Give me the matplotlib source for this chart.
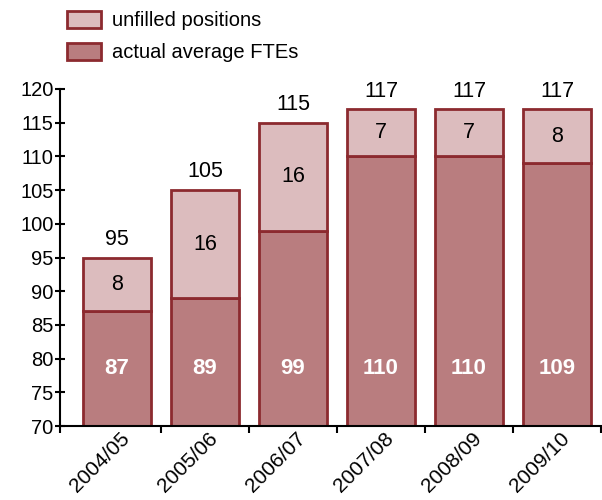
import matplotlib
matplotlib.use("Agg")
import matplotlib.pyplot as plt
import matplotlib.transforms as mtransforms
from matplotlib.patches import Patch
import numpy as np

categories = ["2004/05", "2005/06", "2006/07", "2007/08", "2008/09", "2009/10"]
actual_ftes = [87, 89, 99, 110, 110, 109]
unfilled = [8, 16, 16, 7, 7, 8]
totals = [95, 105, 115, 117, 117, 117]

plt.rcParams['font.family'] = ['Liberation Sans', 'DejaVu Sans']

dark = '#b97d7f'
light = '#dcbcbe'
edge = '#8c2a2f'

fig = plt.figure(figsize=(6.02, 5.0), dpi=100)
ax = fig.add_axes([60/602, 74/500, 542/602, 337/500])

slot = 88.0
base = 70
x = np.arange(len(categories))
w = 68 / slot
ax.bar(x, np.array(actual_ftes) - base, bottom=base, width=w, color=dark,
       edgecolor=edge, linewidth=2, label='actual average FTEs')
ax.bar(x, unfilled, bottom=actual_ftes, width=w, color=light,
       edgecolor=edge, linewidth=2, label='unfilled positions')

for i in range(len(categories)):
    ax.text(x[i], 78.6, str(actual_ftes[i]), ha='center', va='center',
            color='white', fontsize=16, fontweight='bold')
    ax.text(x[i], actual_ftes[i] + unfilled[i] / 2, str(unfilled[i]),
            ha='center', va='center', color='black', fontsize=15.5)
    ax.annotate(str(totals[i]), (x[i], totals[i]), xytext=(0, 5.5),
                textcoords='offset points', ha='center', va='bottom',
                fontsize=15.5, color='black')

left = -0.5 - 13 / slot
right = left + 542 / slot
ax.set_ylim(70, 120)
ax.set_xlim(left, right)
ax.set_yticks(np.arange(70, 121, 5))
ax.tick_params(axis='y', direction='inout', length=7, width=1.5, labelsize=14.5, pad=1)

ax.set_xticks([left] + list(np.arange(0.5, len(categories), 1.0)))
ax.set_xticklabels([])
ax.set_xticks(x, minor=True)
ax.set_xticklabels(categories, minor=True, rotation=45, ha='right', va='center',
                   rotation_mode='anchor', fontsize=15)
ax.tick_params(axis='x', which='major', direction='out', length=5, width=1.5)
ax.tick_params(axis='x', which='minor', length=0, pad=7)
offset = mtransforms.ScaledTranslation(10/100, 0, fig.dpi_scale_trans)
for lab in ax.xaxis.get_minorticklabels():
    lab.set_transform(lab.get_transform() + offset)

for s in ['top', 'right']:
    ax.spines[s].set_visible(False)
ax.spines['left'].set_linewidth(1.5)
ax.spines['bottom'].set_linewidth(1.5)

handles = [Patch(facecolor=light, edgecolor=edge, linewidth=2, label='unfilled positions'),
           Patch(facecolor=dark, edgecolor=edge, linewidth=2, label='actual average FTEs')]
fig.legend(handles=handles, loc='upper left', bbox_to_anchor=(67/602, 1 - 11/500),
           frameon=False, fontsize=14.5, handlelength=1.7, handleheight=0.9,
           labelspacing=0.62, handletextpad=0.55, borderpad=0, borderaxespad=0)

fig.savefig('out.png', dpi=100)
